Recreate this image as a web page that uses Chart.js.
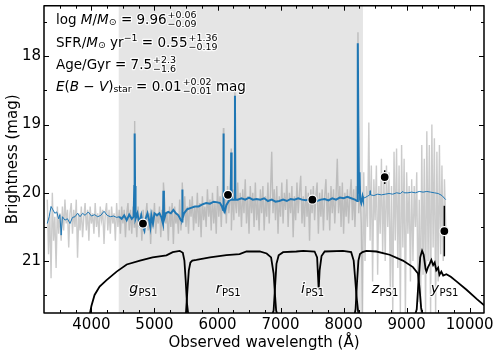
<!DOCTYPE html>
<html>
<head>
<meta charset="utf-8">
<script src="https://cdn.jsdelivr.net/npm/chart.js@4"></script>
<style>
  html, body { margin: 0; padding: 0; background: #fff; }
</style>
</head>
<body>
<canvas id="chart" width="499" height="356"></canvas>
<script>
// axes
const xTicks = [4000, 5000, 6000, 7000, 8000, 9000, 10000];
const yTicks = [18, 19, 20, 21];
const xRange = [3248, 10227];
const yRange = [17.26, 21.76];
const shadeRange = [4433, 8307];

// observed spectrum (grey)
const grayWave = [
  3300,3320,3340,3360,3380,3400,3420,3440,3460,3480,3500,
  3520,3540,3560,3580,3600,3620,3640,3660,3680,3700,
  3720,3740,3760,3780,3800,3820,3840,3860,3880,3900,
  3920,3940,3960,3980,4000,4020,4040,4060,4080,4100,
  4120,4140,4160,4180,4200,4220,4240,4260,4280,4300,
  4320,4340,4360,4380,4400,4420,4440,4460,4480,4500,
  4520,4540,4560,4580,4600,4620,4640,4660,4680,4700,
  4720,4740,4760,4780,4800,4820,4840,4860,4880,4900,
  4920,4940,4960,4980,5000,5020,5040,5060,5080,5100,
  5120,5140,5160,5180,5200,5220,5240,5260,5280,5300,
  5320,5340,5360,5380,5400,5420,5440,5460,5480,5500,
  5520,5540,5560,5580,5600,5620,5640,5660,5680,5700,
  5720,5740,5760,5780,5800,5820,5840,5860,5880,5900,
  5920,5940,5960,5980,6000,6020,6040,6060,6080,6100,
  6120,6140,6160,6180,6200,6220,6240,6260,6280,6300,
  6320,6340,6360,6380,6400,6420,6440,6460,6480,6500,
  6520,6540,6560,6580,6600,6620,6640,6660,6680,6700,
  6720,6740,6760,6780,6800,6820,6840,6860,6880,6900,
  6920,6940,6960,6980,7000,7020,7040,7060,7080,7100,
  7120,7140,7160,7180,7200,7220,7240,7260,7280,7300,
  7320,7340,7360,7380,7400,7420,7440,7460,7480,7500,
  7520,7540,7560,7580,7600,7620,7640,7660,7680,7700,
  7720,7740,7760,7780,7800,7820,7840,7860,7880,7900,
  7920,7940,7960,7980,8000,8020,8040,8060,8080,8100,
  8120,8140,8160,8180,8200,8220,8240,8260,8280,8300,
  8320,8340,8360,8380,8400,8420,8440,8460,8480,8500,
  8520,8540,8560,8580,8600,8620,8640,8660,8680,8700,
  8720,8740,8760,8780,8800,8820,8840,8860,8880,8900,
  8920,8940,8960,8980,9000,9020,9040,9060,9080,9100,
  9120,9140,9160,9180,9200,9220,9240,9260,9280,9300,
  9320,9340,9360,9380,9400,9420,9440,9460,9480,9500,
  9520,9540,9560,9580,9600,9620];
const grayMag = [
  20.1,20.9,20.3,21.25,20.0,20.7,20.35,21.1,20.2,20.6,20.3,
  20.7,20.2,20.55,20.1,20.45,20.25,20.8,20.3,20.15,20.6,
  20.25,20.5,20.1,20.95,20.3,20.55,20.2,20.65,20.35,20.15,
  20.55,20.25,20.7,20.2,20.45,20.3,20.6,20.15,20.5,20.3,
  20.65,20.2,20.4,20.25,20.75,20.3,20.15,20.55,20.25,20.6,
  20.2,20.45,20.3,20.7,20.15,20.5,20.25,20.6,20.2,20.45,
  20.25,20.65,20.3,20.15,20.55,20.25,20.6,20.2,20.5,20.35,
  20.65,20.2,20.5,20.3,20.7,20.25,20.6,20.35,20.15,20.55,
  20.3,20.75,20.25,20.5,20.15,20.6,20.3,20.45,20.2,20.65,
  20.25,20.55,20.1,20.45,20.3,20.7,20.2,20.5,20.15,20.75,
  20.2,20.45,20.3,20.6,20.1,20.55,20.25,20.4,20.05,20.5,
  20.2,20.6,20.1,20.35,20.05,20.55,20.2,20.45,20.0,20.5,
  20.15,20.65,20.05,20.4,20.2,20.5,19.95,20.35,20.1,20.55,
  20.0,20.45,20.15,20.6,19.9,20.35,20.05,20.5,19.95,20.3,
  20.0,20.45,19.9,20.3,20.05,20.55,19.95,20.4,20.1,20.3,
  19.85,20.35,20.0,20.5,19.95,20.3,19.8,20.45,20.05,20.6,
  19.9,20.3,20.0,20.5,19.85,20.4,20.1,20.55,19.95,20.3,
  19.9,20.55,20.05,20.35,19.85,20.45,20.0,19.4,20.3,19.95,
  20.4,19.9,20.6,20.05,20.35,19.85,20.45,20.0,20.25,19.8,
  20.5,20.0,20.3,19.9,20.65,20.05,20.4,19.85,20.3,20.0,
  19.75,20.45,20.05,20.5,19.9,20.35,20.0,20.7,19.95,20.3,
  19.9,20.4,20.05,19.85,20.6,20.0,20.35,19.95,20.55,20.05,
  19.8,20.4,20.0,20.55,19.9,20.3,19.95,20.45,20.05,19.5,
  20.3,19.9,20.5,19.85,20.6,20.0,20.35,19.95,20.45,20.05,
  19.8,20.4,19.95,20.5,19.9,20.1,20.3,19.9,20.45,21.8,
  19.7,21.0,19.9,20.5,18.97,20.7,19.6,21.3,19.8,20.4,
  19.6,21.2,19.9,20.6,19.5,20.9,19.8,21.0,19.6,20.5,
  19.7,21.4,19.9,21.8,19.4,20.7,19.35,21.1,19.6,21.8,
  19.3,20.8,19.5,21.8,19.7,20.6,19.9,21.3,19.8,21.0,
  19.9,20.5,19.7,21.6,20.1,21.8,19.3,21.2,19.5,21.8,
  19.1,21.0,19.3,21.8,19.0,20.8,19.2,21.8,19.4,21.3,
  19.3,20.9,19.6,21.0,19.8,20.5];
// emission-line peaks in the grey spectrum
const grayLineWave = [4686, 5142, 5441, 6094, 6217, 6277, 8228];
const grayLineMag = [18.95, 19.85, 19.85, 19.05, 19.35, 18.5, 17.65];

// best-fit model (blue): bluer than fit window, fit window, redder than fit window
const modelBlueWave = [3300,3330,3360,3390,3420,3450,3480,3500,3520,3540,3580,3620,3660,3700,3740,3780,3820,3860,3900,3950,4000,4050,4100,4150,4200,4250,4300,4350,4400,4440];
const modelBlueMag = [20.45,20.35,20.2,20.25,20.3,20.28,20.38,20.32,20.62,20.35,20.4,20.38,20.45,20.36,20.35,20.3,20.35,20.3,20.33,20.28,20.34,20.32,20.35,20.33,20.27,20.33,20.35,20.34,20.36,20.35];
const modelFitWave = [4440,4480,4520,4560,4600,4640,4670,4680,4686,4692,4700,4730,4760,4790,4820,4840,4860,4890,4920,4935,4950,4976,5000,5040,5080,5110,5135,5142,5150,5180,5220,5260,5300,5340,5380,5420,5438,5441,5446,5470,5520,5580,5640,5700,5760,5820,5880,5940,6000,6040,6070,6088,6094,6100,6115,6140,6180,6210,6217,6224,6250,6270,6277,6284,6320,6380,6440,6500,6560,6620,6680,6740,6800,6860,6920,6980,7040,7100,7160,7220,7280,7340,7400,7460,7520,7580,7640,7700,7760,7820,7880,7940,8000,8060,8120,8180,8215,8222,8228,8234,8245,8253,8262,8280,8300,8307];
const modelFitMag = [20.35,20.38,20.33,20.4,20.32,20.38,20.35,19.9,19.13,19.9,20.38,20.3,20.45,20.33,20.5,20.55,20.38,20.3,20.42,20.5,20.33,20.45,20.3,20.33,20.3,20.36,20.45,19.97,20.4,20.3,20.28,20.3,20.25,20.3,20.33,20.4,20.42,19.95,20.38,20.3,20.24,20.22,20.2,20.2,20.17,20.15,20.16,20.13,20.14,20.15,20.2,20.25,19.13,20.25,20.28,20.18,20.12,20.1,19.41,20.1,20.1,20.1,18.58,20.1,20.1,20.08,20.1,20.07,20.1,20.09,20.1,20.08,20.12,20.1,20.13,20.12,20.1,20.12,20.09,20.1,20.08,20.1,20.11,20.09,20.1,20.12,20.1,20.09,20.11,20.08,20.1,20.07,20.08,20.06,20.08,20.1,20.12,19.0,17.81,19.0,20.0,19.7,20.1,20.15,20.05,20.08];
const modelRedWave = [8307,8340,8380,8415,8421,8427,8480,8540,8600,8660,8720,8780,8840,8900,8940,8960,9020,9080,9140,9200,9260,9320,9380,9440,9500,9560,9620];
const modelRedMag = [20.08,20.07,20.05,20.03,19.97,20.03,20.04,20.02,20.03,20.02,20.01,20.02,20.0,20.01,19.98,20.0,20.0,19.99,20.0,19.98,19.99,19.98,19.99,20.0,20.01,20.04,20.1];

// PS1 photometry
const photBands = ['g', 'r', 'i', 'z', 'y'];
const photWave = [4818, 6166, 7505, 8652, 9598];
const photMag = [20.45, 20.03, 20.10, 19.77, 20.56];
const photErr = [0.04, 0.02, 0.02, 0.1, 0.37];

// PS1 filter transmission curves
const gFilterWave = [3950,3975,4000,4050,4130,4240,4400,4560,4770,4970,5190,5290,5400,5450,5475,5495,5515,5535,5560];
const gFilterT = [0,0.03,0.15,0.32,0.45,0.55,0.68,0.79,0.85,0.9,0.93,0.98,1.0,0.97,0.85,0.55,0.2,0.03,0];
const rFilterWave = [5480,5500,5520,5545,5570,5600,5665,5880,6140,6350,6460,6670,6780,6850,6890,6910,6930,6955];
const rFilterT = [0,0.05,0.35,0.7,0.82,0.85,0.86,0.9,0.935,0.95,0.99,0.99,0.96,0.9,0.65,0.35,0.08,0];
const iFilterWave = [6860,6890,6910,6935,6970,7040,7250,7360,7540,7580,7595,7605,7620,7650,7700,7990,8120,8160,8185,8205,8230,8255];
const iFilterT = [0,0.08,0.4,0.8,0.93,0.98,0.99,1.0,0.99,0.9,0.6,0.4,0.7,0.92,0.99,1.0,0.98,0.85,0.55,0.3,0.07,0];
const zFilterWave = [8170,8190,8212,8235,8260,8300,8360,8520,8730,8940,9100,9180,9205,9230,9255,9275];
const zFilterT = [0,0.1,0.5,0.85,0.95,0.98,1.0,0.99,0.94,0.85,0.75,0.65,0.42,0.12,0.02,0];
const yFilterWave = [9130,9160,9190,9215,9245,9270,9300,9315,9340,9365,9392,9420,9445,9470,9500,9520,9550,9580,9630,9700,9790,9950,10110,10230];
const yFilterT = [0,0.1,0.55,0.9,1.0,0.94,0.72,0.68,0.75,0.8,0.86,0.78,0.82,0.7,0.74,0.63,0.68,0.62,0.64,0.6,0.53,0.4,0.26,0.16];

// transmission -> magnitude placement of the filter curves
const FILTER_BASE = 21.8;
const FILTER_SCALE = 0.95;
const LABEL_MAG = 21.44;

const FONT = '"DejaVu Sans"';
Chart.defaults.font.family = FONT;
Chart.defaults.color = '#000';

const pairs = (xs, ys) => xs.map((v, i) => ({ x: v, y: ys[i] }));
const filterLine = (xs, ts) => pairs(xs, ts.map(t => FILTER_BASE - FILTER_SCALE * t));

const grayData = pairs(grayWave, grayMag).concat(pairs(grayLineWave, grayLineMag)).sort((a, b) => a.x - b.x);

const lineDefaults = { showLine: true, pointRadius: 0, tension: 0, fill: false, clip: 0 };

const annotation = [
  [['log ', 'r'], ['M', 'i'], ['/', 'r'], ['M', 'i'], ['\u2299', 'b'], [' = 9.96', 'r'], { sup: '+0.06', sub: '\u22120.09' }],
  [['SFR/', 'r'], ['M', 'i'], ['\u2299', 'b'], [' yr', 'r'], ['\u22121', 'p'], [' = 0.55', 'r'], { sup: '+1.36', sub: '\u22120.19' }],
  [['Age/Gyr = 7.5', 'r'], { sup: '+2.3', sub: '\u22121.6' }],
  [['E', 'i'], ['(', 'r'], ['B', 'i'], [' \u2212 ', 'r'], ['V', 'i'], [')', 'r'], ['star', 'b'], [' = 0.01', 'r'], { sup: '+0.02', sub: '\u22120.01' }, [' mag', 'r']],
];

function put(ctx, t, x, y, pass) {
  if (pass === 0) ctx.strokeText(t, x, y); else ctx.fillText(t, x, y);
}

function richText(ctx, segs, x, y, size, pass) {
  const small = size * 0.7;
  for (const s of segs) {
    if (!Array.isArray(s)) {
      ctx.font = `${small}px ${FONT}`;
      const w = Math.max(ctx.measureText(s.sup).width, ctx.measureText(s.sub).width);
      put(ctx, s.sup, x + 1, y - size * 0.33, pass);
      put(ctx, s.sub, x + 1, y + size * 0.36, pass);
      x += w + 1;
      continue;
    }
    const [t, k] = s;
    let dy = 0;
    let f = `${size}px ${FONT}`;
    if (k === 'i') f = `italic ${size}px ${FONT}`;
    if (k === 'b') { f = `${small}px ${FONT}`; dy = size * 0.22; }
    if (k === 'p') { f = `${small}px ${FONT}`; dy = -size * 0.33; }
    ctx.font = f;
    put(ctx, t, x, y + dy, pass);
    x += ctx.measureText(t).width;
  }
}

const decor = {
  id: 'decor',
  beforeDatasetsDraw(chart) {
    const { ctx, chartArea: a, scales: { x } } = chart;
    const x0 = x.getPixelForValue(shadeRange[0]);
    const x1 = x.getPixelForValue(shadeRange[1]);
    ctx.save();
    ctx.fillStyle = '#e5e5e5';
    ctx.fillRect(x0, a.top, x1 - x0, a.bottom - a.top);
    ctx.restore();
  },
  beforeDatasetDraw(chart, args) {
    if (chart.data.datasets[args.index].label !== 'photometry') return;
    const { ctx, scales: { x, y } } = chart;
    ctx.save();
    ctx.strokeStyle = '#000';
    ctx.lineWidth = 1.5;
    photWave.forEach((w, i) => {
      const px = x.getPixelForValue(w);
      ctx.beginPath();
      ctx.moveTo(px, y.getPixelForValue(photMag[i] - photErr[i]));
      ctx.lineTo(px, y.getPixelForValue(photMag[i] + photErr[i]));
      ctx.stroke();
    });
    ctx.restore();
  },
  afterDatasetsDraw(chart) {
    const { ctx, chartArea: a, scales: { x, y } } = chart;
    ctx.save();

    // filter labels
    ctx.textBaseline = 'middle';
    ctx.lineJoin = 'round';
    ctx.strokeStyle = 'rgba(255,255,255,0.8)';
    ctx.lineWidth = 2.5;
    ctx.fillStyle = '#000';
    const ly = y.getPixelForValue(LABEL_MAG);
    for (let pass = 0; pass < 2; pass++) {
      photBands.forEach((b, i) => {
        ctx.font = `italic 14px ${FONT}`;
        const w1 = ctx.measureText(b).width;
        ctx.font = `10px ${FONT}`;
        const w2 = ctx.measureText('PS1').width;
        const lx = x.getPixelForValue(photWave[i]) - (w1 + w2) / 2;
        ctx.font = `italic 14px ${FONT}`;
        put(ctx, b, lx, ly - 2, pass);
        ctx.font = `10px ${FONT}`;
        put(ctx, 'PS1', lx + w1 + 0.5, ly + 2, pass);
      });
    }

    // frame and inward ticks
    ctx.strokeStyle = '#000';
    ctx.lineWidth = 1;
    ctx.beginPath();
    for (let v = 3250; v < xRange[1]; v += 250) {
      const px = Math.round(x.getPixelForValue(v)) + 0.5;
      if (px < a.left + 2 || px > a.right - 2) continue;
      const len = xTicks.includes(v) ? 5 : 3;
      ctx.moveTo(px, a.bottom); ctx.lineTo(px, a.bottom - len);
      ctx.moveTo(px, a.top); ctx.lineTo(px, a.top + len);
    }
    for (let v = 17.5; v < yRange[1]; v += 0.5) {
      const py = Math.round(y.getPixelForValue(v)) + 0.5;
      const len = yTicks.includes(v) ? 5 : 3;
      ctx.moveTo(a.left, py); ctx.lineTo(a.left + len, py);
      ctx.moveTo(a.right, py); ctx.lineTo(a.right - len, py);
    }
    ctx.stroke();
    ctx.lineWidth = 1.5;
    ctx.strokeRect(a.left, a.top, a.right - a.left, a.bottom - a.top);

    // fit results
    ctx.lineWidth = 2.5;
    ctx.strokeStyle = 'rgba(255,255,255,0.85)';
    const lineY = [20, 43, 65, 87];
    for (let pass = 0; pass < 2; pass++) {
      annotation.forEach((segs, i) => richText(ctx, segs, a.left + 12, lineY[i], 13.5, pass));
    }
    ctx.restore();
  }
};

new Chart(document.getElementById('chart'), {
  type: 'scatter',
  data: {
    datasets: [
      { label: 'photometry', data: pairs(photWave, photMag), showLine: false, pointRadius: 4.5,
        pointBackgroundColor: '#000', pointBorderColor: '#fff', pointBorderWidth: 1.2, order: 0 },
      { ...lineDefaults, label: 'g', data: filterLine(gFilterWave, gFilterT), borderColor: '#000', borderWidth: 1.8, order: 1 },
      { ...lineDefaults, label: 'r', data: filterLine(rFilterWave, rFilterT), borderColor: '#000', borderWidth: 1.8, order: 1 },
      { ...lineDefaults, label: 'i', data: filterLine(iFilterWave, iFilterT), borderColor: '#000', borderWidth: 1.8, order: 1 },
      { ...lineDefaults, label: 'z', data: filterLine(zFilterWave, zFilterT), borderColor: '#000', borderWidth: 1.8, order: 1 },
      { ...lineDefaults, label: 'y', data: filterLine(yFilterWave, yFilterT), borderColor: '#000', borderWidth: 1.8, order: 1 },
      { ...lineDefaults, label: 'model fit', data: pairs(modelFitWave, modelFitMag), borderColor: '#1f77b4', borderWidth: 2, order: 2 },
      { ...lineDefaults, label: 'model blue', data: pairs(modelBlueWave, modelBlueMag), borderColor: '#1f77b4', borderWidth: 1, order: 2 },
      { ...lineDefaults, label: 'model red', data: pairs(modelRedWave, modelRedMag), borderColor: '#1f77b4', borderWidth: 1, order: 2 },
      { ...lineDefaults, label: 'spectrum', data: grayData, borderColor: 'rgba(140,140,140,0.45)', borderWidth: 1.4, order: 3 },
    ],
  },
  options: {
    responsive: false,
    animation: false,
    events: [],
    layout: { padding: { left: 0, right: 15, top: 4, bottom: 0 } },
    plugins: { legend: { display: false }, tooltip: { enabled: false } },
    scales: {
      x: {
        type: 'linear',
        min: xRange[0],
        max: xRange[1],
        afterBuildTicks: (s) => { s.ticks = xTicks.map(v => ({ value: v })); },
        afterFit: (s) => { s.height = 43; s.paddingLeft = 0; s.paddingRight = 0; },
        grid: { display: false, drawTicks: false },
        border: { display: false },
        ticks: { font: { size: 15 }, padding: 3, maxRotation: 0, callback: (v) => String(v) },
        title: { display: true, text: 'Observed wavelength (\u00c5)', font: { size: 15 }, padding: { top: 4, bottom: 4 } },
      },
      y: {
        type: 'linear',
        reverse: true,
        min: yRange[0],
        max: yRange[1],
        afterBuildTicks: (s) => { s.ticks = yTicks.map(v => ({ value: v })); },
        afterFit: (s) => { s.width = 44; s.paddingTop = 0; s.paddingBottom = 0; },
        grid: { display: false, drawTicks: false },
        border: { display: false },
        ticks: { font: { size: 15 }, padding: 3, callback: (v) => String(v) },
        title: { display: true, text: 'Brightness (mag)', font: { size: 15 }, padding: { top: 4, bottom: 4 } },
      },
    },
  },
  plugins: [decor],
});
</script>
</body>
</html>
